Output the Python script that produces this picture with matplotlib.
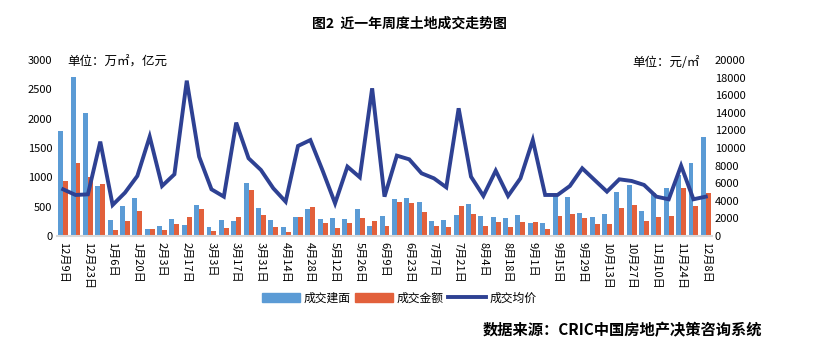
import matplotlib
matplotlib.use('Agg')
import matplotlib.pyplot as plt
from matplotlib.patches import Patch
from matplotlib.lines import Line2D
import numpy as np

plt.rcParams['font.family'] = ['Noto Sans CJK SC', 'DejaVu Sans']

# weekly dates, 12月9日 .. 12月8日
weeks = ['12月9日', '12月16日', '12月23日', '12月30日', '1月6日', '1月13日', '1月20日', '1月27日',
         '2月3日', '2月10日', '2月17日', '2月24日', '3月3日', '3月10日', '3月17日', '3月24日',
         '3月31日', '4月7日', '4月14日', '4月21日', '4月28日', '5月5日', '5月12日', '5月19日',
         '5月26日', '6月2日', '6月9日', '6月16日', '6月23日', '6月30日', '7月7日', '7月14日',
         '7月21日', '7月28日', '8月4日', '8月11日', '8月18日', '8月25日', '9月1日', '9月8日',
         '9月15日', '9月22日', '9月29日', '10月6日', '10月13日', '10月20日', '10月27日', '11月3日',
         '11月10日', '11月17日', '11月24日', '12月1日', '12月8日']

# 成交建面 (万㎡)
area = [1795, 2716, 2102, 852, 273, 511, 642, 119, 170, 284,
        187, 528, 148, 273, 256, 898, 472, 273, 148, 318,
        455, 284, 301, 284, 455, 170, 341, 625, 642, 580,
        250, 273, 358, 545, 341, 318, 307, 358, 227, 216,
        699, 670, 392, 318, 380, 756, 869, 426, 730, 823,
        1040, 1244, 1692]
# 成交金额 (亿元)
amount = [937, 1250, 1011, 886, 102, 256, 426, 119, 102, 204,
          330, 460, 91, 131, 330, 784, 358, 148, 68, 318,
          500, 216, 131, 216, 301, 261, 170, 580, 557, 409,
          170, 155, 511, 375, 176, 244, 148, 239, 239, 114,
          341, 375, 307, 200, 205, 483, 528, 256, 324, 346,
          818, 516, 738]
# 成交均价 (元/㎡)
price = [5300, 4660, 4730, 10720, 3520, 4920, 6820, 11290, 5680, 7010,
         17650, 9010, 5300, 4470, 12880, 8830, 7500, 5420, 3900, 10230,
         10900, 7400, 3710, 7880, 6670, 16780, 4470, 9130, 8710, 7120,
         6550, 5530, 14510, 6740, 4550, 7420, 4550, 6550, 10900, 4660,
         4660, 5680, 7690, 6360, 5040, 6440, 6250, 5800, 4470, 4170,
         7990, 4170, 4470]

c_blue = '#5B9BD5'
c_orange = '#E2603B'
c_line = '#2E4193'

fig = plt.figure(figsize=(8.18, 3.57), dpi=100)
ax = fig.add_axes([0.0697, 0.339, 0.8007, 0.493])
x = np.arange(len(weeks))
w = 0.4
ax.bar(x - w / 2, area, width=w, color=c_blue, zorder=2)
ax.bar(x + w / 2, amount, width=w, color=c_orange, zorder=2)
ax.set_xlim(-0.5, len(weeks) - 0.5)
ax.set_ylim(0, 3000)
ax.set_yticks(range(0, 3001, 500))
ax.set_xticks(x[::2])
ax.set_xticklabels(weeks[::2], rotation=-90, fontsize=7.5, va='top', ha='center')
ax.tick_params(axis='both', length=0, labelsize=8)
ax.tick_params(axis='x', pad=4)
for s in ['top', 'left', 'right']:
    ax.spines[s].set_visible(False)
ax.spines['bottom'].set_color('#D9D9D9')
ax.spines['bottom'].set_linewidth(1.5)

ax2 = ax.twinx()
ax2.plot(x, price, color=c_line, lw=2.8, solid_joinstyle='miter', zorder=3)
ax2.set_ylim(0, 20000)
ax2.set_yticks(range(0, 20001, 2000))
ax2.tick_params(axis='y', length=0, labelsize=8, pad=2)
for s in ['top', 'left', 'right', 'bottom']:
    ax2.spines[s].set_visible(False)

fig.text(0.5, 0.935, '图2  近一年周度土地成交走势图', ha='center', va='center',
         fontsize=10, fontweight='bold')
fig.text(0.082, 0.826, '单位：万㎡，亿元', ha='left', va='center', fontsize=9)
fig.text(0.855, 0.826, '单位：元/㎡', ha='right', va='center', fontsize=9)

handles = [Patch(color=c_blue, label='成交建面'),
           Patch(color=c_orange, label='成交金额'),
           Line2D([0], [0], color=c_line, lw=2.8, label='成交均价')]
fig.legend(handles=handles, loc='center', bbox_to_anchor=(0.488, 0.165), ncol=3,
           frameon=False, fontsize=8.5, handlelength=3.2, handleheight=0.9,
           handletextpad=0.3, columnspacing=0.4)

fig.text(0.932, 0.075, '数据来源：CRIC中国房地产决策咨询系统', ha='right', va='center',
         fontsize=11, fontweight='bold')

fig.savefig('out.png', dpi=100)
